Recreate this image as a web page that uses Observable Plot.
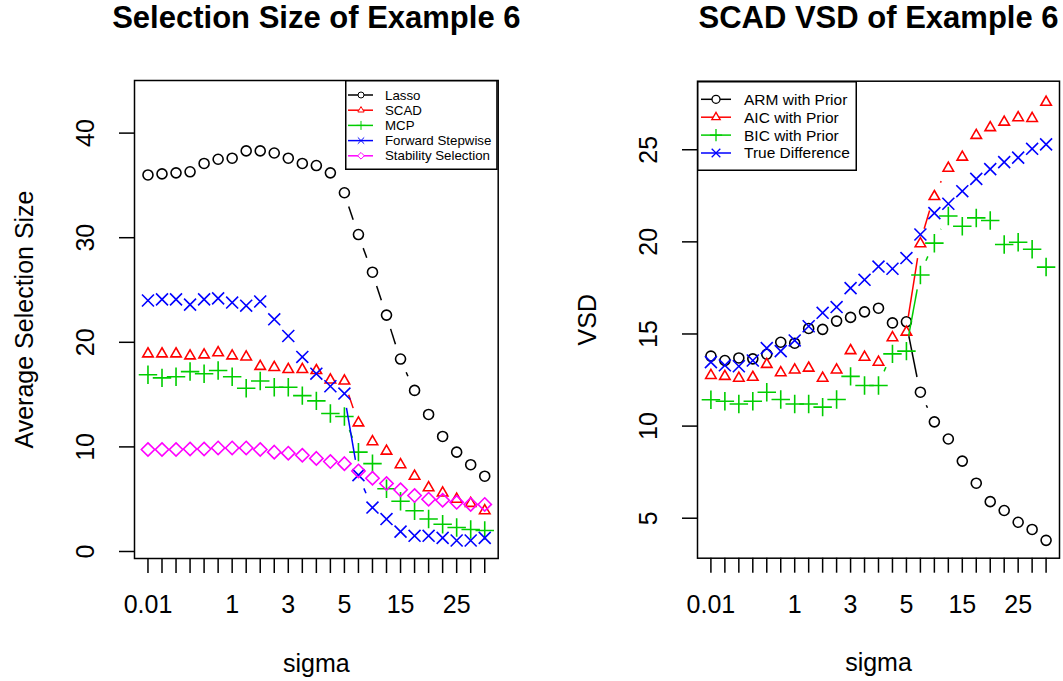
<!DOCTYPE html>
<html>
<head>
<meta charset="utf-8">
<script src="https://cdn.jsdelivr.net/npm/d3@7"></script>
<script src="https://cdn.jsdelivr.net/npm/@observablehq/plot@0.6"></script>
<style>
  body { margin: 0; background: #fff; }
  #wrap { position: relative; width: 1063px; height: 681px; font-family: "Liberation Sans", Arial, Helvetica, sans-serif; }
  .panel { position: absolute; top: 0; }
  .legend { position: absolute; overflow: visible; }
</style>
</head>
<body>
<div id="wrap"></div>
<script>
// sigma grid: 25 settings, shown by position, labelled at a few of them
const sigmaIndex = d3.range(1, 26);
const sigmaTickIndex = [1, 7, 11, 15, 19, 23];
const sigmaTickLabel = ["0.01", "1", "3", "5", "15", "25"];

// Panel 1: average selection size
const lasso    = [36.0, 36.1, 36.2, 36.3, 37.1, 37.5, 37.6, 38.3, 38.3, 38.1, 37.6, 37.1, 36.9, 36.2, 34.3, 30.3, 26.7, 22.6, 18.4, 15.4, 13.1, 11.0, 9.5, 8.3, 7.2];
const scad     = [18.9, 18.9, 18.9, 18.7, 18.8, 19.0, 18.7, 18.6, 17.7, 17.6, 17.4, 17.4, 17.3, 16.4, 16.3, 12.3, 10.5, 9.6, 8.3, 7.2, 6.1, 5.6, 5.0, 4.6, 3.9];
const mcp      = [16.9, 16.6, 16.7, 17.2, 17.0, 17.3, 16.7, 15.6, 16.3, 15.7, 15.7, 14.9, 14.4, 13.2, 12.9, 9.5, 8.4, 6.0, 4.8, 3.9, 3.1, 2.6, 2.3, 2.1, 2.0];
const forward  = [24.0, 24.1, 24.1, 23.6, 24.1, 24.2, 23.8, 23.5, 23.9, 22.2, 20.6, 18.6, 17.0, 15.8, 15.1, 7.3, 4.2, 3.1, 1.9, 1.5, 1.5, 1.3, 1.05, 1.05, 1.3];
const stability = [9.75, 9.75, 9.75, 9.8, 9.8, 9.9, 9.9, 9.9, 9.75, 9.5, 9.4, 9.2, 8.9, 8.6, 8.4, 7.7, 7.0, 6.5, 5.9, 5.35, 5.0, 4.9, 4.7, 4.5, 4.5];
const sizeTicks = [0, 10, 20, 30, 40];

// Panel 2: SCAD variable selection deviation
const armPrior = [13.8, 13.56, 13.7, 13.65, 13.9, 14.55, 14.5, 15.3, 15.25, 15.7, 15.9, 16.2, 16.4, 15.6, 15.66, 11.84, 10.23, 9.3, 8.1, 6.9, 5.9, 5.42, 4.78, 4.39, 3.8];
const aicPrior = [12.75, 12.7, 12.6, 12.65, 13.35, 12.9, 13.05, 13.15, 12.6, 13.05, 14.1, 13.74, 13.47, 14.8, 15.1, 19.9, 22.46, 24.0, 24.6, 25.78, 26.2, 26.5, 26.74, 26.7, 27.58];
const bicPrior = [11.43, 11.35, 11.2, 11.35, 11.84, 11.44, 11.2, 11.2, 11.03, 11.44, 12.7, 12.2, 12.2, 13.92, 14.07, 18.2, 19.93, 21.4, 20.85, 21.3, 21.16, 19.86, 19.98, 19.6, 18.63];
const trueDiff = [13.47, 13.3, 13.25, 13.56, 14.23, 14.07, 14.65, 15.42, 16.15, 16.46, 17.49, 17.94, 18.66, 18.54, 19.12, 20.4, 21.56, 22.07, 22.75, 23.42, 23.95, 24.33, 24.57, 25.05, 25.29];
const vsdTicks = [5, 10, 15, 20, 25];

const GREEN = "#00CD00";
const FONT = "\"Liberation Sans\", Arial, Helvetica, sans-serif";
const SYMBOL_R = {circle: 5, triangle2: 5, plus: 6, times: 5.5, diamond2: 6};
const GAP = 15; // blank space kept around each point, like type = "b"

const leftSeries = [
  {name: "Lasso", values: lasso, color: "black", symbol: "circle"},
  {name: "SCAD", values: scad, color: "red", symbol: "triangle2"},
  {name: "MCP", values: mcp, color: GREEN, symbol: "plus"},
  {name: "Forward Stepwise", values: forward, color: "blue", symbol: "times"},
  {name: "Stability Selection", values: stability, color: "magenta", symbol: "diamond2"}
];
const rightSeries = [
  {name: "ARM with Prior", values: armPrior, color: "black", symbol: "circle"},
  {name: "AIC with Prior", values: aicPrior, color: "red", symbol: "triangle2"},
  {name: "BIC with Prior", values: bicPrior, color: GREEN, symbol: "plus"},
  {name: "True Difference", values: trueDiff, color: "blue", symbol: "times"}
];

// Line segments between consecutive points, trimmed so they stop short of each symbol.
function gappedLine(values, color) {
  return (index, scales) => {
    const sx = typeof scales.x === "function" ? scales.x : scales.scales.x.apply;
    const sy = typeof scales.y === "function" ? scales.y : scales.scales.y.apply;
    const g = d3.create("svg:g").attr("stroke", color).attr("stroke-width", 1.5).attr("fill", "none");
    for (let k = 1; k < values.length; ++k) {
      const x0 = sx(sigmaIndex[k - 1]), y0 = sy(values[k - 1]);
      const x1 = sx(sigmaIndex[k]), y1 = sy(values[k]);
      const dx = x1 - x0, dy = y1 - y0, d = Math.hypot(dx, dy);
      if (d <= 2 * GAP) continue;
      const ux = dx / d, uy = dy / d;
      g.append("line")
        .attr("x1", x0 + ux * GAP).attr("y1", y0 + uy * GAP)
        .attr("x2", x1 - ux * GAP).attr("y2", y1 - uy * GAP);
    }
    return g.node();
  };
}

function panel({title, yLabel, series, yDomain, yTicks, width, margins}) {
  const marks = [
    Plot.frame({stroke: "black", strokeWidth: 1.5}),
    Plot.axisX({
      ticks: sigmaIndex, tickSize: 15, tickPadding: 22, strokeWidth: 1.5, fontSize: 25,
      tickFormat: i => { const j = sigmaTickIndex.indexOf(i); return j < 0 ? "" : sigmaTickLabel[j]; },
      label: null
    }),
    Plot.axisY({ticks: yTicks, tickSize: 15, strokeWidth: 1.5, tickFormat: () => "", label: null}),
    Plot.text(yTicks, {y: d => d, text: d => String(d), frameAnchor: "left", dx: -41, rotate: -90,
      textAnchor: "middle", lineAnchor: "bottom", fontSize: 25, fill: "black"}),
    Plot.text([yLabel], {frameAnchor: "left", dx: -102, rotate: -90, textAnchor: "middle",
      lineAnchor: "bottom", fontSize: 25, fill: "black"}),
    Plot.text(["sigma"], {frameAnchor: "bottom", dy: 113, lineAnchor: "bottom", fontSize: 25, fill: "black"}),
    Plot.text([title], {frameAnchor: "top", dy: -53, lineAnchor: "bottom", fontSize: 31,
      fontWeight: "bold", fill: "black"})
  ];
  for (const s of series) {
    marks.push(gappedLine(s.values, s.color));
    marks.push(Plot.dot(sigmaIndex, {
      x: i => i, y: i => s.values[i - 1], symbol: s.symbol, r: SYMBOL_R[s.symbol],
      stroke: s.color, fill: "none", strokeWidth: 1.6
    }));
  }
  return Plot.plot({
    width, height: 681,
    marginLeft: margins[0], marginRight: margins[1], marginTop: margins[2], marginBottom: margins[3],
    x: {domain: [0.04, 25.96]},
    y: {domain: yDomain},
    style: {fontFamily: FONT, fontSize: "25px", color: "black", background: "white", overflow: "visible"},
    marks
  });
}

const symbolTypes = {
  circle: d3.symbolCircle, triangle2: d3.symbolTriangle2, plus: d3.symbolPlus,
  times: d3.symbolTimes, diamond2: d3.symbolDiamond2
};

// Boxed key drawn in the top corner of a panel
function legend({series, left, top, width, height, firstRow, rowStep, lineX, symbolX, textX, fontSize, symbolR, symbolStroke}) {
  const svg = d3.create("svg").attr("class", "legend")
    .attr("width", width).attr("height", height)
    .style("left", left + "px").style("top", top + "px");
  svg.append("rect").attr("x", 0.75).attr("y", 0.75).attr("width", width - 1.5).attr("height", height - 1.5)
    .attr("fill", "white").attr("stroke", "black").attr("stroke-width", 1.5);
  series.forEach((s, k) => {
    const y = firstRow + k * rowStep;
    svg.append("line").attr("x1", lineX[0]).attr("x2", lineX[1]).attr("y1", y).attr("y2", y)
      .attr("stroke", s.color).attr("stroke-width", 1.5);
    svg.append("path")
      .attr("d", d3.symbol(symbolTypes[s.symbol], Math.PI * symbolR * symbolR)())
      .attr("transform", `translate(${symbolX},${y})`)
      .attr("fill", "white")
      .attr("stroke", s.color).attr("stroke-width", symbolStroke);
    svg.append("text").attr("x", textX).attr("y", y).attr("dy", "0.35em")
      .attr("font-family", FONT).attr("font-size", fontSize).attr("fill", "black").text(s.name);
  });
  return svg.node();
}

const wrap = document.getElementById("wrap");

const left = panel({
  title: "Selection Size of Example 6", yLabel: "Average Selection Size",
  series: leftSeries, yDomain: [-0.67, 45.03], yTicks: sizeTicks,
  width: 531, margins: [134, 33.3, 80, 123]
});
left.classList.add("panel");
left.style.left = "0px";
wrap.appendChild(left);

const right = panel({
  title: "SCAD VSD of Example 6", yLabel: "VSD",
  series: rightSeries, yDomain: [2.83, 28.72], yTicks: vsdTicks,
  width: 532, margins: [166, 4, 80.7, 123.3]
});
right.classList.add("panel");
right.style.left = "531px";
wrap.appendChild(right);

wrap.appendChild(legend({
  series: leftSeries, left: 345, top: 80, width: 152.7, height: 90,
  firstRow: 15, rowStep: 15.2, lineX: [3, 28], symbolX: 16, textX: 40, fontSize: 13.3,
  symbolR: 3, symbolStroke: 1
}));
wrap.appendChild(legend({
  series: rightSeries, left: 697, top: 80.7, width: 160, height: 90,
  firstRow: 18.3, rowStep: 17.9, lineX: [4, 34], symbolX: 19, textX: 47, fontSize: 15.5,
  symbolR: 4, symbolStroke: 1.3
}));
</script>
</body>
</html>
